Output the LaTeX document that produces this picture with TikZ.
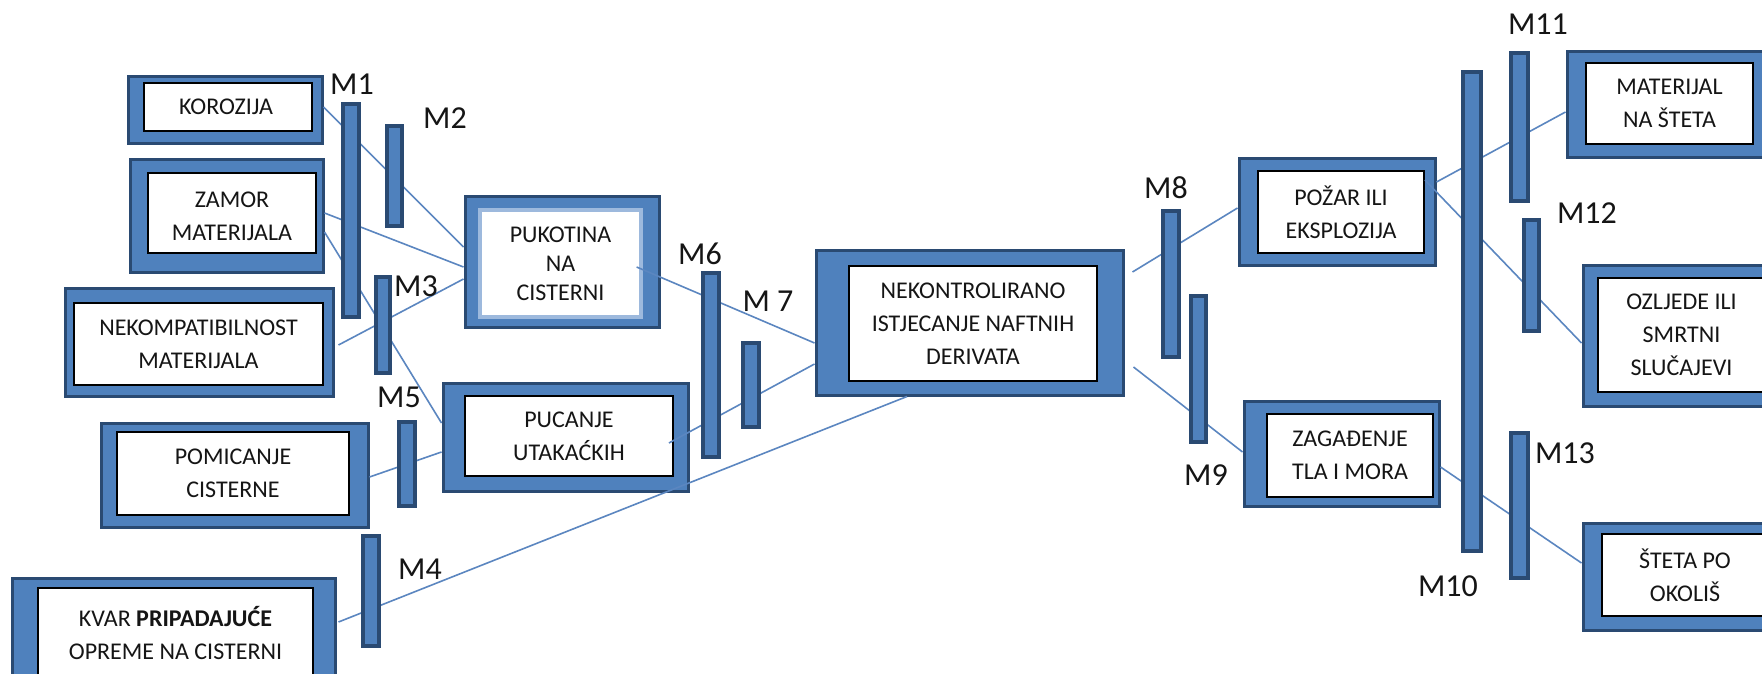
\documentclass[tikz,border=0pt]{standalone}
\usepackage{fontspec}
\setmainfont{Carlito}
\usetikzlibrary{fit,calc}
\definecolor{boxblue}{HTML}{4F81BD}
\definecolor{boxdark}{HTML}{2A4A72}
\definecolor{linkblue}{HTML}{5B86C0}
\definecolor{lightedge}{HTML}{9DB9DD}
\definecolor{txt}{HTML}{151515}
\tikzset{
  outerbox/.style={fit={#1}, inner sep=0pt, fill=boxblue, draw=boxdark, line width=1.5pt},
  innerbox/.style={fit={#1}, inner sep=0pt, fill=white, draw=black, line width=0.9pt},
  softinner/.style={innerbox={#1}, draw=lightedge, line width=1.6pt},
  boxtext/.style={align=center, text=txt, inner sep=0pt, font=\fontsize{12pt}{16.5pt}\selectfont},
  tighttext/.style={boxtext, font=\fontsize{12pt}{14.5pt}\selectfont},
  bar/.style={fit={#1}, inner sep=0pt, fill=boxblue, draw=boxdark, line width=1.6pt},
  mlabel/.style={text=txt, font=\fontsize{16pt}{19pt}\selectfont, inner sep=0pt},
  link/.style={draw=linkblue, line width=0.8pt}
}
\begin{document}
\begin{tikzpicture}[x=0.5pt,y=-0.5pt]
\clip (0,0) rectangle (1762,674);
\fill[white] (0,0) rectangle (1762,674);

% outer boxes
\node[outerbox={(128,77) (322,144)}] (korO) {};
\node[outerbox={(130,160) (323,272)}] (zamO) {};
\node[outerbox={(65,288) (333,396)}] (nkoO) {};
\node[outerbox={(101,423) (368,527)}] (pomO) {};
\node[outerbox={(12,578) (335,692)}] (kvrO) {};
\node[outerbox={(465,196) (659,327)}] (pukO) {};
\node[outerbox={(443,383) (688,491)}] (pucO) {};
\node[outerbox={(816,250) (1123,395)}] (nekO) {};
\node[outerbox={(1239,159) (1435,265)}] (pozO) {};
\node[outerbox={(1244,401) (1439,506)}] (zagO) {};
\node[outerbox={(1567,52) (1768,158)}] (matO) {};
\node[outerbox={(1583,265) (1785,406)}] (ozlO) {};
\node[outerbox={(1583,523) (1790,630)}] (steO) {};

% inner boxes
\node[innerbox={(144,83) (312,131)}] (kor) {};
\node[innerbox={(148,173) (316,253)}] (zam) {};
\node[innerbox={(74,303) (323,385)}] (nko) {};
\node[innerbox={(117,432) (349,515)}] (pom) {};
\node[innerbox={(38,588) (313,676)}] (kvr) {};
\node[softinner={(480,210) (641,317)}] (puk) {};
\node[innerbox={(465,396) (673,476)}] (puc) {};
\node[innerbox={(849,266) (1097,381)}] (nek) {};
\node[innerbox={(1258,171) (1424,253)}] (poz) {};
\node[innerbox={(1267,414) (1433,497)}] (zag) {};
\node[innerbox={(1586,63) (1753,144)}] (mat) {};
\node[innerbox={(1598,278) (1765,392)}] (ozl) {};
\node[innerbox={(1602,534) (1768,616)}] (ste) {};

% texts
\node[boxtext] (korT) at ($(kor.center)+(-2,0)$) {KOROZIJA};
\node[boxtext] (zamT) at ($(zam.center)+(0,3)$) {ZAMOR\\MATERIJALA};
\node[boxtext] (nkoT) at (nko.center) {NEKOMPATIBILNOST\\MATERIJALA};
\node[boxtext] (pomT) at (pom.center) {POMICANJE\\CISTERNE};
\node[boxtext] (kvrT) at ($(kvr.center)+(0,1)$) {KVAR \textbf{PRIPADAJUĆE}\\OPREME NA CISTERNI};
\node[tighttext] (pukT) at (puk.center) {PUKOTINA\\NA\\CISTERNI};
\node[boxtext] (pucT) at (puc.center) {PUCANJE\\UTAKAĆKIH};
\node[boxtext] (nekT) at (nek.center) {NEKONTROLIRANO\\ISTJECANJE NAFTNIH\\DERIVATA};
\node[boxtext] (pozT) at (poz.center) {POŽAR ILI\\EKSPLOZIJA};
\node[boxtext] (zagT) at (zag.center) {ZAGAĐENJE\\TLA I MORA};
\node[boxtext] (matT) at (mat.center) {MATERIJAL\\NA ŠTETA};
\node[boxtext] (ozlT) at (ozl.center) {OZLJEDE ILI\\SMRTNI\\SLUČAJEVI};
\node[boxtext] (steT) at (ste.center) {ŠTETA PO\\OKOLIŠ};

% connectors
\draw[link] (korO.east |- 0,107) -- (pukO.west |- 0,247);
\draw[link] (zamO.east |- 0,213) -- (pukO.west |- 0,267);
\draw[link] (zamO.east |- 0,232) -- (pucO.west |- 0,423);
\draw[link] ($(nkoO.east |- 0,345)+(4,0)$) -- (pukO.west |- 0,279);
\draw[link] (pomO.east |- 0,477) -- (pucO.west |- 0,452);
\draw[link] ($(kvrO.east |- 0,622)+(2,0)$) -- (nekO.south -| 907,0);
\draw[link] ($(puk.east |- 0,267)+(-6,0)$) -- (nekO.west |- 0,343);
\draw[link] ($(puc.east |- 0,443)+(-5,0)$) -- (nekO.west |- 0,364);
\draw[link] ($(nekO.east |- 0,272)+(8,0)$) -- (pozO.west |- 0,208);
\draw[link] ($(nekO.east |- 0,367)+(9,0)$) -- (zagO.west |- 0,452);
\draw[link] (pozO.east |- 0,182) -- (matO.west |- 0,112);
\draw[link] (poz.east |- 0,180) -- (ozlO.west |- 0,343);
\draw[link] (zagO.east |- 0,467) -- (steO.west |- 0,563);

% barriers
\node[bar={(343,104) (359,317)}] (m1) {};
\node[bar={(387,126) (402,226)}] (m2) {};
\node[bar={(376,277) (390,373)}] (m3) {};
\node[bar={(363,536) (379,646)}] (m4) {};
\node[bar={(399,422) (415,506)}] (m5) {};
\node[bar={(703,273) (719,457)}] (m6) {};
\node[bar={(743,343) (759,427)}] (m7) {};
\node[bar={(1163,211) (1179,357)}] (m8) {};
\node[bar={(1191,296) (1206,442)}] (m9) {};
\node[bar={(1463,72) (1481,551)}] (m10) {};
\node[bar={(1511,53) (1528,201)}] (m11) {};
\node[bar={(1524,220) (1539,331)}] (m12) {};
\node[bar={(1511,433) (1528,578)}] (m13) {};

% barrier labels
\node[mlabel] (l1) at (352,84) {M1};
\node[mlabel] (l2) at (445,118) {M2};
\node[mlabel] (l3) at (416,286) {M3};
\node[mlabel] (l4) at (420,569) {M4};
\node[mlabel] (l5) at (399,397) {M5};
\node[mlabel] (l6) at (700,254) {M6};
\node[mlabel] (l7) at (768,301) {M 7};
\node[mlabel] (l8) at (1166,188) {M8};
\node[mlabel] (l9) at (1206,475) {M9};
\node[mlabel] (l10) at (1448,586) {M10};
\node[mlabel] (l11) at (1538,24) {M11};
\node[mlabel] (l12) at (1587,213) {M12};
\node[mlabel] (l13) at (1565,453) {M13};
\end{tikzpicture}
\end{document}
